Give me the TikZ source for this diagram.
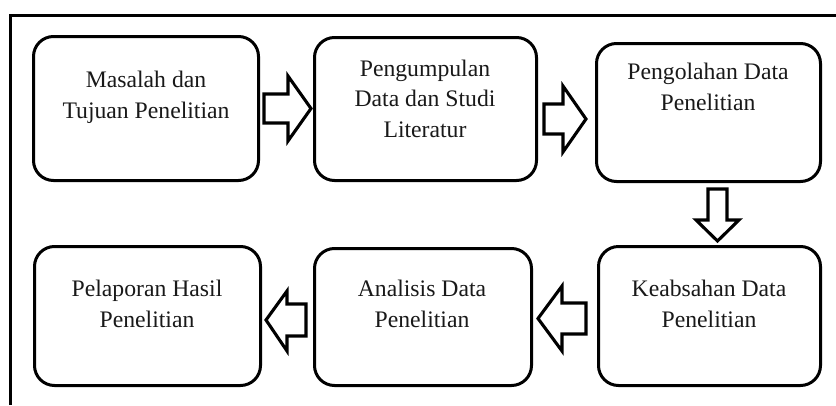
\documentclass[tikz,border=0pt]{standalone}
\usepackage{fontspec}
\setmainfont{Liberation Serif}
\begin{document}
\begin{tikzpicture}[x=1pt,y=-1pt,
  box/.style={draw=black, line width=3pt, rounded corners=20pt, inner sep=0pt},
  lbl/.style={font=\fontsize{23.7}{30.5}\selectfont, align=center, inner sep=0pt, anchor=base, text=black!90},
  barrow/.style={draw=black, line width=3.1pt, fill=white, line join=miter}]
\useasboundingbox (0,0) rectangle (836,405);
% outer frame (only top and left visible)
\draw[line width=3pt] (10,405) -- (10,15) -- (836,15);
% boxes
\node[box, minimum width=225pt, minimum height=144pt] (B1) at (146,108.5) {};
\node[box, minimum width=222pt, minimum height=143pt] (B2) at (425.5,109) {};
\node[box, minimum width=224pt, minimum height=138pt] (B3) at (708.5,112.5) {};
\node[box, minimum width=222pt, minimum height=139pt] (B4) at (709.5,316) {};
\node[box, minimum width=217pt, minimum height=137pt] (B5) at (423,317) {};
\node[box, minimum width=226pt, minimum height=139pt] (B6) at (147.5,316) {};
% labels (anchor = baseline of last line)
\node[lbl] (T1) at (146,118) {Masalah dan\\Tujuan Penelitian};
\node[lbl] (T2) at (425,137) {Pengumpulan\\Data dan Studi\\Literatur};
\node[lbl] (T3) at (708,110) {Pengolahan Data\\Penelitian};
\node[lbl] (T4) at (709,327) {Keabsahan Data\\Penelitian};
\node[lbl] (T5) at (422,327) {Analisis Data\\Penelitian};
\node[lbl] (T6) at (147,327) {Pelaporan Hasil\\Penelitian};
% block arrows
\draw[barrow] (264,94) -- (288,94) -- (288,76) -- (311,108.5) -- (288,141) -- (288,123) -- (264,123) -- cycle;
\draw[barrow] (544,104) -- (563,104) -- (563,86) -- (586,119) -- (563,152) -- (563,134) -- (544,134) -- cycle;
\draw[barrow] (708,189) -- (727,189) -- (727,220) -- (739,220) -- (717.5,241) -- (696,220) -- (708,220) -- cycle;
\draw[barrow] (586,303) -- (562,303) -- (562,286) -- (538,318.5) -- (562,351) -- (562,334) -- (586,334) -- cycle;
\draw[barrow] (306,304) -- (287,304) -- (287,291) -- (266,320) -- (287,351) -- (287,336) -- (306,336) -- cycle;
\end{tikzpicture}
\end{document}
